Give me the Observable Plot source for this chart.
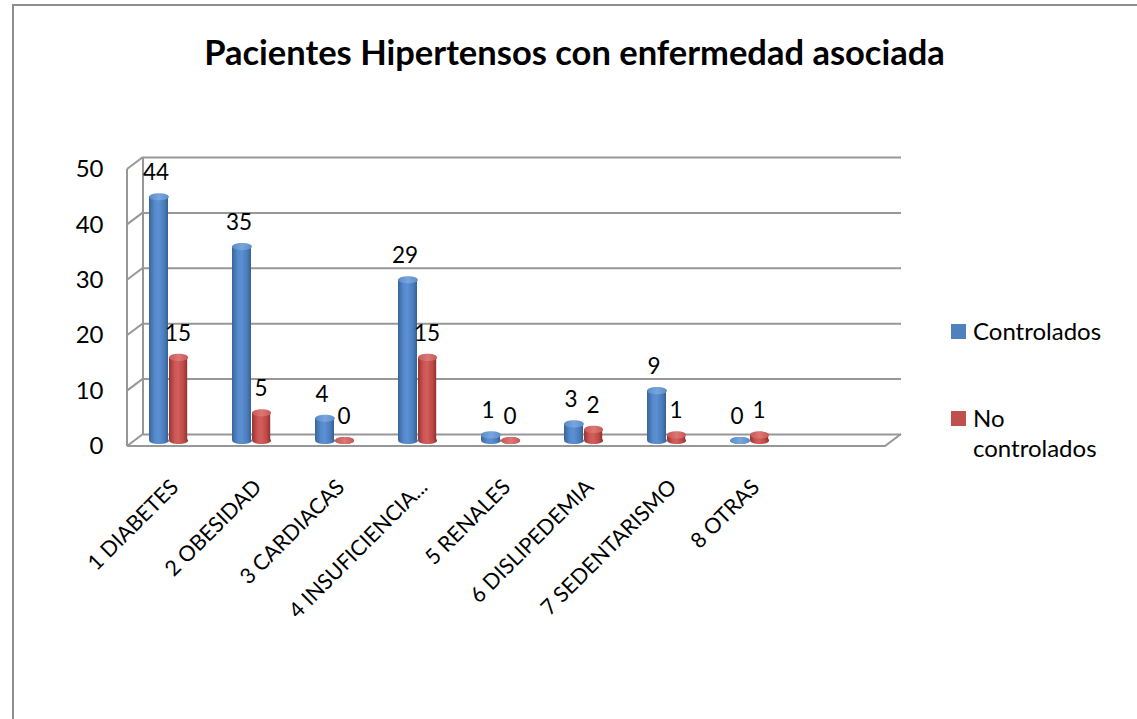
<!DOCTYPE html>
<html>
<head>
<meta charset="utf-8">
<script src="https://cdn.jsdelivr.net/npm/d3@7"></script>
<script src="https://cdn.jsdelivr.net/npm/@observablehq/plot@0.6"></script>
<style>
  body { margin: 0; background: #fff; }
  #wrap { position: relative; width: 1137px; height: 719px; overflow: hidden; background: #fff;
          font-family: Lato, "Open Sans", sans-serif; color: #000; }
  #border { position: absolute; left: 12px; top: 4px; width: 1300px; height: 900px;
            border-left: 2px solid #8e8e8e; border-top: 2px solid #8e8e8e; }
  #title { position: absolute; left: 12px; right: 0; top: 34px; text-align: center;
           font-weight: bold; font-size: 34.5px; line-height: 36px; }
  #chart { position: absolute; left: 0; top: 0; }
  .leg { position: absolute; left: 951px; font-size: 24px; line-height: 30px; }
  .sw { position: absolute; left: 0; width: 15px; height: 15px; }
  .lt { position: absolute; left: 22px; white-space: nowrap; }
</style>
</head>
<body>
<div id="wrap">
  <div id="border"></div>
  <div id="title"></div>
  <div id="chart"></div>
  <div id="legend"></div>
</div>
<script>
const title = "Pacientes Hipertensos con enfermedad asociada";
const categories = ["1 DIABETES", "2 OBESIDAD", "3 CARDIACAS", "4 INSUFICIENCIA...", "5 RENALES", "6 DISLIPEDEMIA", "7 SEDENTARISMO", "8 OTRAS"];
const seriesNames = ["Controlados", "No controlados"];
const controlados = [44, 35, 4, 29, 1, 3, 9, 0];
const noControlados = [15, 5, 0, 15, 0, 2, 1, 1];
const yTicks = [0, 10, 20, 30, 40, 50];
const seriesColors = ["#4f81bd", "#c0504d"];

document.getElementById("title").textContent = title;

const rowsC = categories.map((c, i) => ({cat: c, serie: seriesNames[0], value: controlados[i]}));
const rowsN = categories.map((c, i) => ({cat: c, serie: seriesNames[1], value: noControlados[i]}));

const GRID = "#979797";
const BACK = {dx: 16, dy: -6};
const FRONT = {dy: 6};

function ellipse(rx, ry) {
  const k = 0.5523;
  return {draw(ctx) {
    ctx.moveTo(rx, 0);
    ctx.bezierCurveTo(rx, ry * k, rx * k, ry, 0, ry);
    ctx.bezierCurveTo(-rx * k, ry, -rx, ry * k, -rx, 0);
    ctx.bezierCurveTo(-rx, -ry * k, -rx * k, -ry, 0, -ry);
    ctx.bezierCurveTo(rx * k, -ry, rx, -ry * k, rx, 0);
    ctx.closePath();
  }};
}

// left wall and floor outline, positioned from the plot's own scales and frame
function walls(index, scales, values, dimensions) {
  const L = dimensions.marginLeft;
  const R = dimensions.width - dimensions.marginRight;
  const y = scales.y;
  const g = d3.create("svg:g").attr("fill", "none").attr("stroke", GRID).attr("stroke-width", 2);
  const y0 = y(yTicks[0]), yTop = y(yTicks[yTicks.length - 1]);
  g.append("line").attr("x1", L).attr("x2", L).attr("y1", yTop + FRONT.dy).attr("y2", y0 + FRONT.dy);
  g.append("line").attr("x1", L + BACK.dx).attr("x2", L + BACK.dx).attr("y1", yTop + BACK.dy).attr("y2", y0 + BACK.dy);
  for (const t of yTicks) {
    g.append("line").attr("x1", L).attr("x2", L + BACK.dx)
      .attr("y1", y(t) + FRONT.dy).attr("y2", y(t) + BACK.dy);
  }
  g.append("path").attr("d",
    `M${L},${y0 + FRONT.dy}H${R}L${R + BACK.dx},${y0 + BACK.dy}`);
  return g.node();
}

function cylinder(rows, k) {
  const off = k === 0 ? {insetLeft: 22, insetRight: 42, dx: -10, rx: 9.9, tdx: -13}
                      : {insetLeft: 42, insetRight: 22.8, dx: 9.6, rx: 9.5, tdx: 9};
  const id = k === 0 ? "B" : "R";
  return [
    Plot.dot(rows, {x: "cat", y: () => 0, symbol: ellipse(off.rx, 3.6), fill: `url(#body${id})`, dx: off.dx}),
    Plot.barY(rows, {x: "cat", y: "value", fill: `url(#body${id})`, insetLeft: off.insetLeft, insetRight: off.insetRight}),
    Plot.dot(rows, {x: "cat", y: "value", symbol: ellipse(off.rx, 3.6), fill: `url(#top${id})`, dx: off.dx}),
    Plot.text(rows, {x: "cat", y: "value", text: d => String(d.value), dx: off.tdx, dy: -24,
                     fontSize: 22.5, fill: "#000", lineAnchor: "middle"})
  ];
}

const chart = Plot.plot({
  width: 1137,
  height: 719,
  marginLeft: 127,
  marginRight: 252,
  marginTop: 163,
  marginBottom: 279,
  style: {fontFamily: "Lato, 'Open Sans', sans-serif", background: "transparent", overflow: "visible"},
  x: {type: "band", domain: categories, paddingInner: 0, paddingOuter: 0.5225, align: 0, axis: null},
  y: {domain: [0, 50], axis: null},
  marks: [
    Plot.ruleY(yTicks, {y: d => d, dx: BACK.dx, dy: BACK.dy, stroke: GRID, strokeWidth: 2}),
    walls,
    ...cylinder(rowsC, 0),
    ...cylinder(rowsN, 1),
    Plot.text(yTicks, {y: d => d, text: d => String(d), frameAnchor: "left", textAnchor: "end",
                       dx: -24, dy: 6, fontSize: 24, fill: "#000"}),
    Plot.text(categories, {x: d => d, text: d => d, frameAnchor: "bottom", rotate: -45, textAnchor: "end",
                           lineAnchor: "middle", dx: 6, dy: 43, fontSize: 21.5, fill: "#000"})
  ]
});

// gradients for the cylinder shading
const defs = d3.select(chart).insert("defs", ":first-child");
function grad(id, stops) {
  const lg = defs.append("linearGradient").attr("id", id).attr("x1", 0).attr("x2", 1).attr("y1", 0).attr("y2", 0);
  stops.forEach(([o, c]) => lg.append("stop").attr("offset", o).attr("stop-color", c));
}
grad("bodyB", [[0, "#3a6497"], [0.3, "#558ace"], [0.5, "#5b90d3"], [0.8, "#4a7cbc"], [1, "#36608f"]]);
grad("bodyR", [[0, "#973431"], [0.3, "#cc5653"], [0.5, "#d35e5b"], [0.8, "#bb4946"], [1, "#8f3230"]]);
grad("topB", [[0, "#5a8bc8"], [0.5, "#79a5dd"], [1, "#5d8dca"]]);
grad("topR", [[0, "#c75855"], [0.5, "#dc7774"], [1, "#c65a57"]]);

document.getElementById("chart").appendChild(chart);

// legend
const legend = document.getElementById("legend");
const legendTops = [316, 403];
seriesNames.forEach((name, i) => {
  const item = document.createElement("div");
  item.className = "leg";
  item.style.top = legendTops[i] + "px";
  const sw = document.createElement("div");
  sw.className = "sw";
  sw.style.background = seriesColors[i];
  sw.style.top = "8px";
  const lt = document.createElement("div");
  lt.className = "lt";
  lt.innerHTML = i === 0 ? name : name.replace(" ", "<br>");
  item.appendChild(sw);
  item.appendChild(lt);
  legend.appendChild(item);
});
</script>
</body>
</html>
